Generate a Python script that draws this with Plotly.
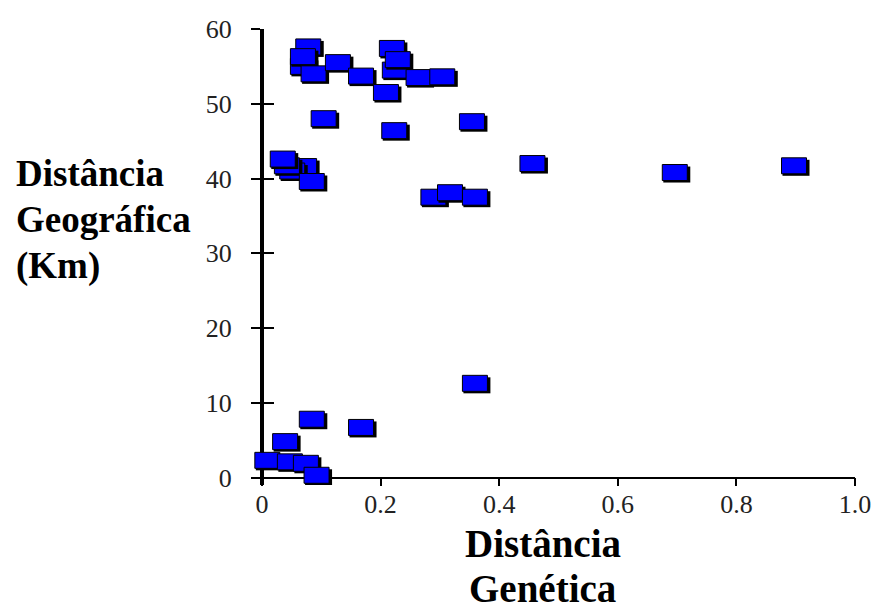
import plotly.graph_objects as go

# Genetic distance (x) vs geographic distance in km (y)
gen_dist = [0.070, 0.079, 0.070, 0.088, 0.129, 0.168, 0.210, 0.225, 0.220, 0.230, 0.265, 0.305,
            0.105, 0.224, 0.355,
            0.072, 0.052, 0.043, 0.036, 0.085,
            0.290, 0.318, 0.360, 0.457, 0.697, 0.898,
            0.360, 0.085, 0.168, 0.040, 0.010, 0.048, 0.075, 0.093]
geo_dist = [55.0, 57.6, 56.3, 54.0, 55.5, 53.7, 51.5, 54.5, 57.4, 55.9, 53.5, 53.6,
            48.0, 46.4, 47.6,
            41.6, 41.0, 41.7, 42.6, 39.6,
            37.5, 38.1, 37.5, 42.0, 40.8, 41.7,
            12.6, 7.8, 6.7, 4.8, 2.3, 2.1, 1.9, 0.3]

x_tickvals = [0, 0.2, 0.4, 0.6, 0.8, 1.0]
x_ticktext = ["0", "0.2", "0.4", "0.6", "0.8", "1.0"]
y_tickvals = [0, 10, 20, 30, 40, 50, 60]

x_title_lines = ["Distância", "Genética"]
y_title_lines = ["Distância", "Geográfica", "(Km)"]

XR = [-0.015, 1.0]
YR = [-1.0, 60.0]

fig = go.Figure()
fig.add_trace(go.Scatter(
    x=gen_dist, y=geo_dist, mode="markers",
    marker=dict(symbol="square", size=12, color="#0000FF"),
    showlegend=False, cliponaxis=False,
))

shapes = []
for xv, yv in zip(gen_dist, geo_dist):
    shapes.append(dict(type="rect", xref="x", yref="y", xsizemode="pixel", ysizemode="pixel",
                       xanchor=xv, yanchor=yv, x0=-12, x1=15, y0=-10, y1=6,
                       fillcolor="black", line=dict(width=0), layer="above"))
    shapes.append(dict(type="rect", xref="x", yref="y", xsizemode="pixel", ysizemode="pixel",
                       xanchor=xv, yanchor=yv, x0=-13, x1=12, y0=-8, y1=8,
                       fillcolor="#0000FF", line=dict(color="black", width=1), layer="above"))

L, R, T, B = 253, 23, 29, 126.5
W, H = 883, 612
pw = W - L - R
ph = H - T - B

def px_x(p):
    return (p - L) / pw

def px_y(p):
    return (H - B - p) / ph

tickfont = dict(family="Liberation Serif", size=26, color="#222222")
titlefont_x = dict(family="Liberation Serif", size=39, color="black", weight="bold")
titlefont_y = dict(family="Liberation Serif", size=37, color="black", weight="bold")

xpos = (0 - YR[0]) / (YR[1] - YR[0])
ypos = (0 - XR[0]) / (XR[1] - XR[0])

annotations = []
for txt, cy in zip(x_title_lines, [544, 589]):
    annotations.append(dict(text=txt, xref="paper", yref="paper", x=px_x(545), y=px_y(cy),
                            xanchor="center", yanchor="middle", showarrow=False,
                            font=titlefont_x, borderpad=0))
for txt, cy in zip(y_title_lines, [174, 220, 266]):
    annotations.append(dict(text=txt, xref="paper", yref="paper", x=px_x(12), y=px_y(cy),
                            xanchor="left", yanchor="middle", showarrow=False,
                            font=titlefont_y))

fig.update_layout(
    width=W, height=H,
    margin=dict(l=L, r=R, t=T, b=B),
    paper_bgcolor="white", plot_bgcolor="white",
    shapes=shapes,
    xaxis=dict(range=XR, anchor="free", position=xpos, showgrid=False, zeroline=False,
               showline=True, linecolor="black", linewidth=1.5,
               ticks="outside", ticklen=8, tickwidth=2, tickcolor="black",
               tickvals=x_tickvals, ticktext=x_ticktext, tickfont=tickfont,
               ticklabelstandoff=-4),
    yaxis=dict(range=YR, anchor="free", position=ypos, showgrid=False, zeroline=False,
               showline=True, linecolor="black", linewidth=4,
               ticks="outside", ticklen=9, tickwidth=2, tickcolor="black",
               tickvals=y_tickvals, tickfont=tickfont, ticklabelstandoff=14),
    yaxis2=dict(range=YR, overlaying="y", anchor="free", position=ypos, side="left",
                showgrid=False, zeroline=False, showline=False,
                ticks="inside", ticklen=11, tickwidth=2, tickcolor="black",
                tickvals=y_tickvals, showticklabels=False),
    annotations=annotations,
)
fig.add_trace(go.Scatter(x=[None], y=[None], yaxis="y2", showlegend=False))

fig.write_html("out.html")
